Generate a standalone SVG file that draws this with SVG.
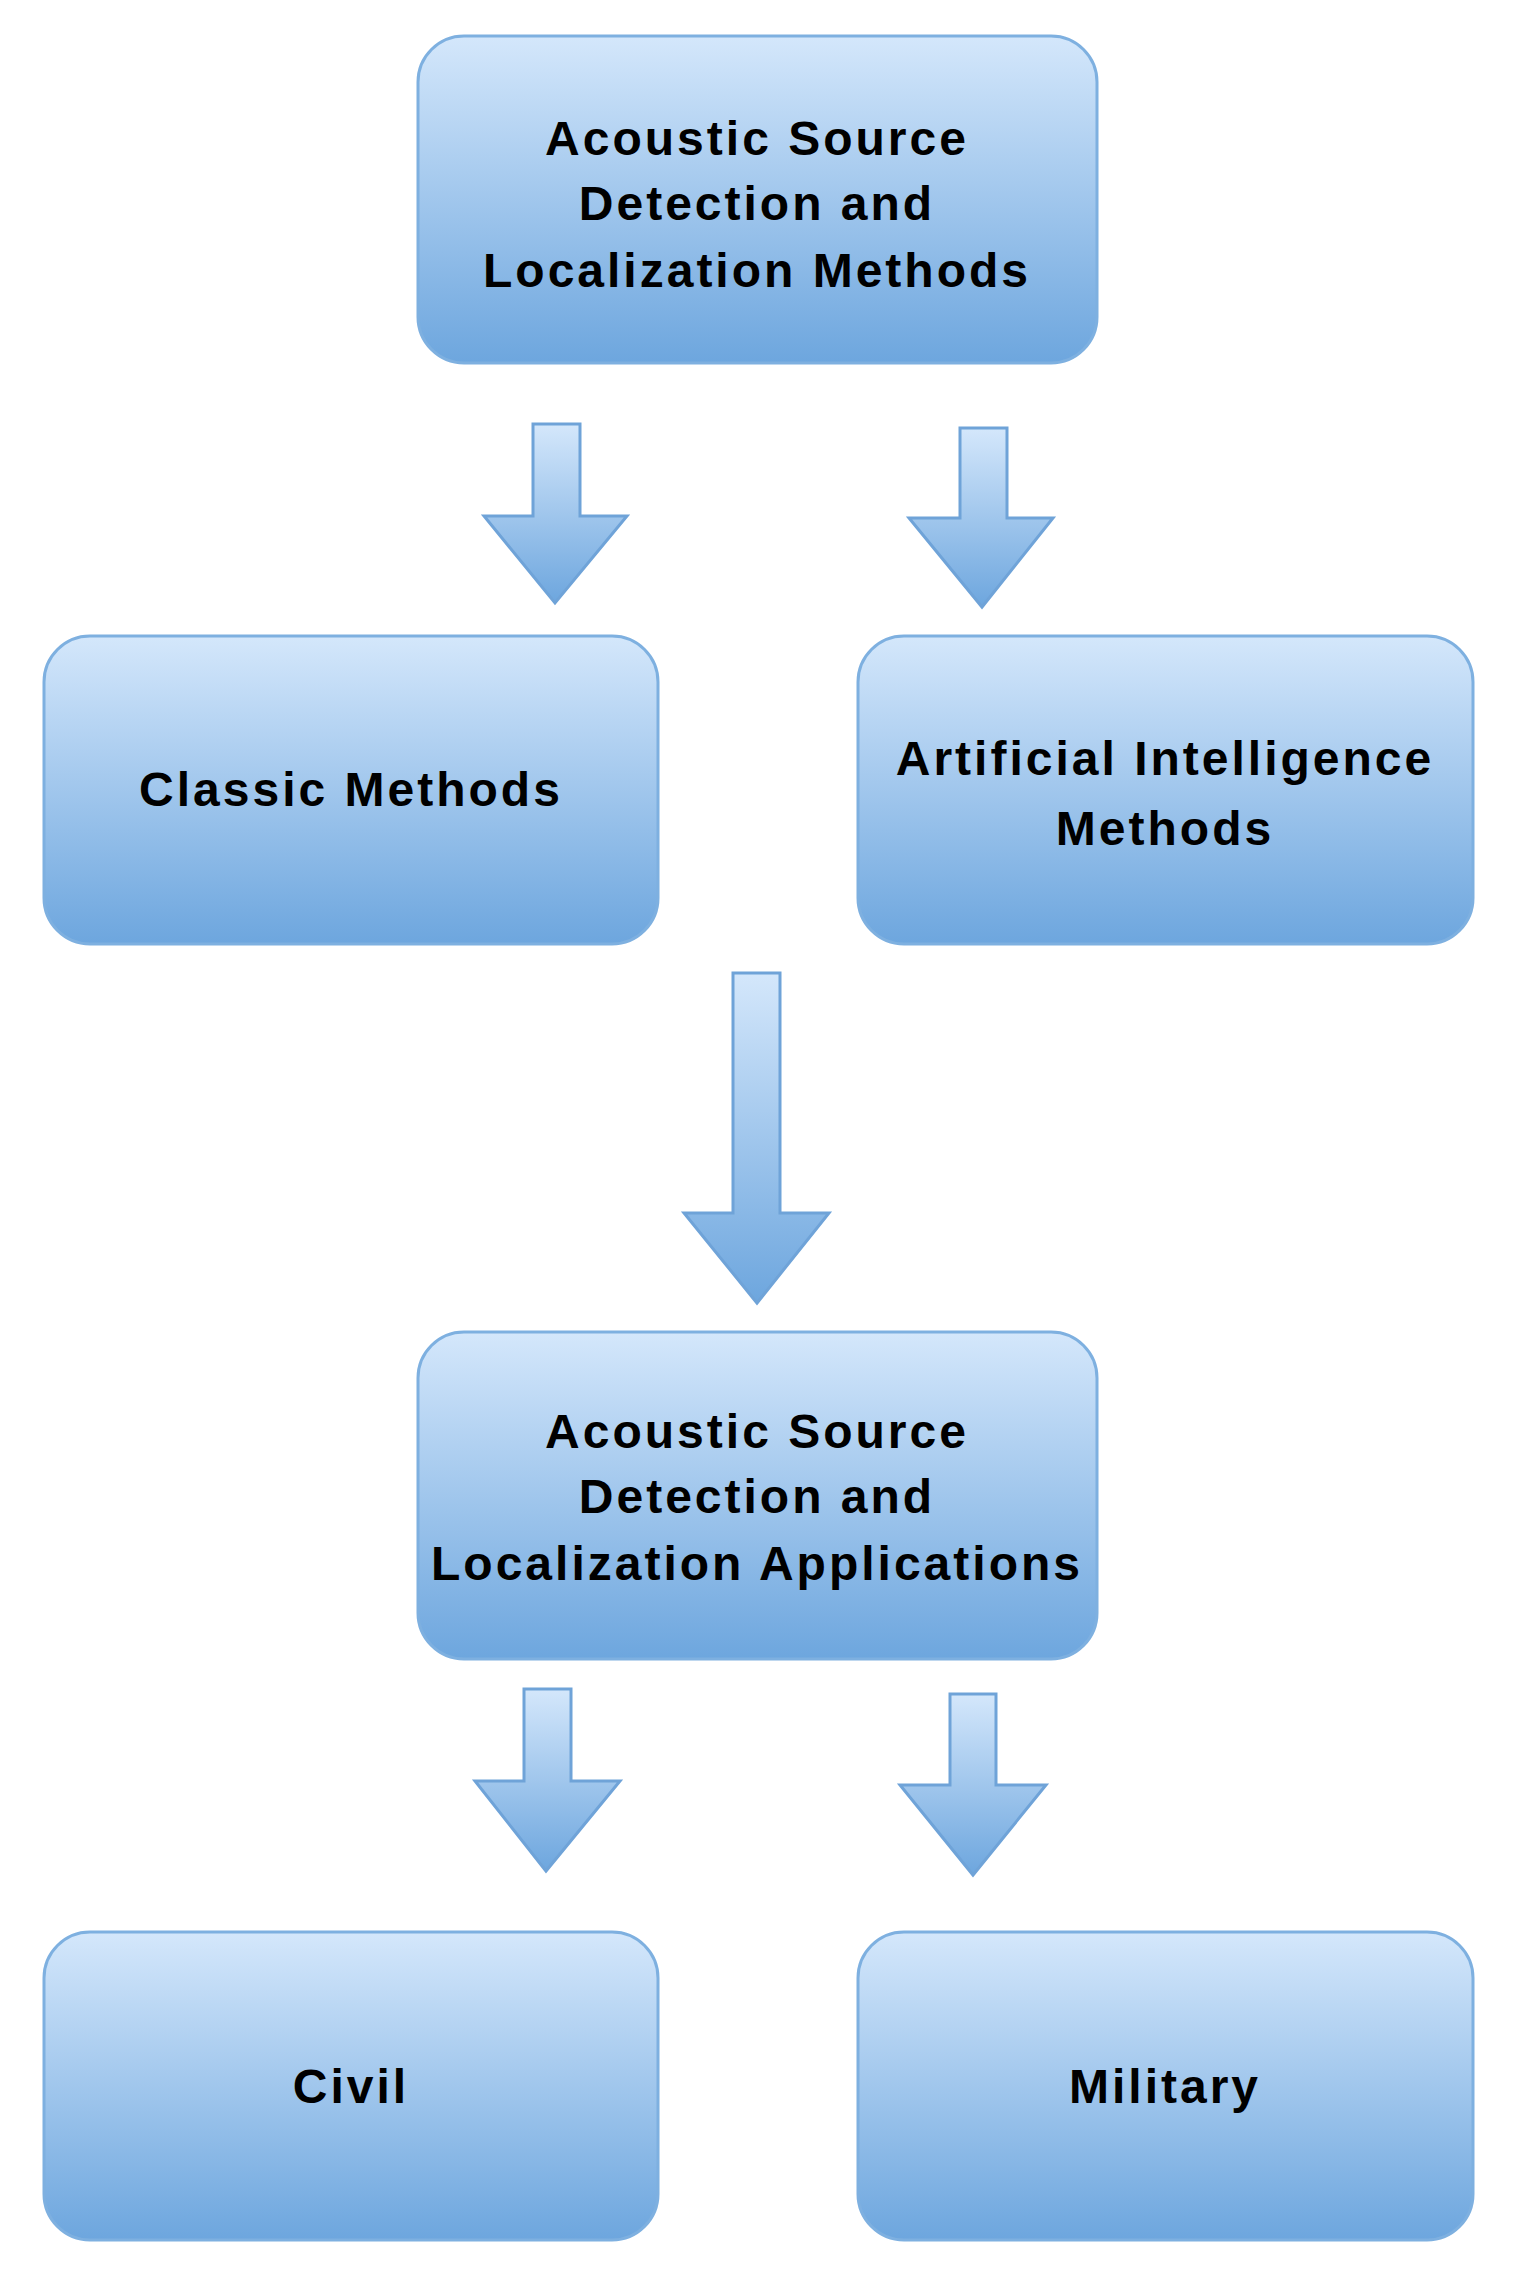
<svg xmlns="http://www.w3.org/2000/svg" width="1525" height="2274" viewBox="0 0 1525 2274">
<defs>
<linearGradient id="g" x1="0" y1="0" x2="0" y2="1"><stop offset="0" stop-color="#d4e7fb"/><stop offset="1" stop-color="#6da6de"/></linearGradient>
<style>
.box{fill:url(#g);stroke:#7eb0e0;stroke-width:3}
.arr{fill:url(#g);stroke:#6fa3d8;stroke-width:3;stroke-linejoin:miter}
text{font-family:"Liberation Sans",Arial,sans-serif;font-weight:bold;font-size:48px;letter-spacing:3px;text-anchor:middle;fill:#000}
</style>
</defs>
<rect width="1525" height="2274" fill="#fff"/>
<g id="connectors">
<path class="arr" d="M533,424 H580 V516 H627 L555,603 L484,516 H533 Z"/>
<path class="arr" d="M960,428 H1007 V518 H1053 L982,607 L909,518 H960 Z"/>
<path class="arr" d="M733,973 H780 V1213 H829 L757,1303 L684,1213 H733 Z"/>
<path class="arr" d="M524,1689 H571 V1781 H620 L546,1871 L475,1781 H524 Z"/>
<path class="arr" d="M950,1694 H996 V1785 H1046 L973,1875 L900,1785 H950 Z"/>
</g>
<g id="n1"><rect class="box" x="418" y="36" width="679" height="327" rx="46"/>
<text x="757" y="155">Acoustic Source</text><text x="757" y="220">Detection and</text><text x="757" y="287">Localization Methods</text></g>
<g id="n2"><rect class="box" x="44" y="636" width="614" height="308" rx="46"/><text x="351" y="806">Classic Methods</text></g>
<g id="n3"><rect class="box" x="858" y="636" width="615" height="308" rx="46"/><text x="1165" y="775">Artificial Intelligence</text><text x="1165" y="845">Methods</text></g>
<g id="n4"><rect class="box" x="418" y="1332" width="679" height="327" rx="46"/>
<text x="757" y="1448">Acoustic Source</text><text x="757" y="1513">Detection and</text><text x="757" y="1580">Localization Applications</text></g>
<g id="n5"><rect class="box" x="44" y="1932" width="614" height="308" rx="46"/><text x="351" y="2103">Civil</text></g>
<g id="n6"><rect class="box" x="858" y="1932" width="615" height="308" rx="46"/><text x="1165" y="2103">Military</text></g>
</svg>
